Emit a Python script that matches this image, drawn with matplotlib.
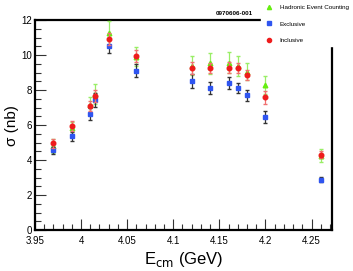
import matplotlib
matplotlib.use("Agg")
import matplotlib.pyplot as plt
from matplotlib.ticker import MultipleLocator, FormatStrFormatter
from matplotlib.lines import Line2D

energy = [3.97, 3.99, 4.01, 4.015, 4.03, 4.06, 4.12, 4.14, 4.16, 4.17, 4.18, 4.20, 4.26]

hadronic = [4.82, 5.81, 7.16, 7.77, 11.24, 9.90, 9.39, 9.52, 9.56, 9.37, 9.05, 8.30, 4.25]
hadronic_err = [0.40, 0.38, 0.45, 0.57, 0.70, 0.55, 0.55, 0.60, 0.60, 0.57, 0.47, 0.50, 0.37]

exclusive = [4.55, 5.35, 6.63, 7.45, 10.51, 9.10, 8.51, 8.11, 8.40, 8.11, 7.70, 6.46, 2.88]
exclusive_err = [0.22, 0.25, 0.33, 0.40, 0.42, 0.38, 0.40, 0.35, 0.32, 0.28, 0.30, 0.33, 0.15]

inclusive = [4.95, 5.94, 7.09, 7.66, 10.91, 9.96, 9.24, 9.26, 9.28, 9.28, 8.84, 7.58, 4.29]
inclusive_err = [0.25, 0.28, 0.30, 0.35, 0.35, 0.35, 0.35, 0.30, 0.30, 0.28, 0.28, 0.35, 0.20]

green = "#66ee11"
blue = "#2f55f0"
red = "#ee1c1c"

plt.rcParams["font.family"] = ["Liberation Sans", "DejaVu Sans"]

fig = plt.figure(figsize=(3.53, 2.71), dpi=100)
ax = fig.add_axes([0.099, 0.151, 0.841, 0.775])

ax.errorbar(energy, hadronic, yerr=hadronic_err, fmt="^", color=green, ms=3.3,
            ecolor="#99ee66", elinewidth=0.9, capsize=1.2, zorder=3)
ax.errorbar(energy, exclusive, yerr=exclusive_err, fmt="s", color=blue, ms=3.5,
            ecolor="#333333", elinewidth=0.9, capsize=1.2, zorder=4)
ax.errorbar(energy, inclusive, yerr=inclusive_err, fmt="o", color=red, ms=3.3,
            ecolor="#f07070", elinewidth=0.9, capsize=1.2, zorder=5)

ax.set_xlim(3.95, 4.272)
ax.set_ylim(0, 12)
ax.xaxis.set_major_locator(MultipleLocator(0.05))
ax.xaxis.set_minor_locator(MultipleLocator(0.01))
ax.yaxis.set_major_locator(MultipleLocator(2))
ax.yaxis.set_minor_locator(MultipleLocator(0.5))
ax.xaxis.set_major_formatter(FormatStrFormatter("%g"))
ax.yaxis.set_major_formatter(FormatStrFormatter("%g"))
ax.tick_params(which="both", direction="in", top=False, right=False,
               color="#333333", labelsize=7, width=0.8)
ax.tick_params(which="major", length=8, pad=2)
ax.tick_params(axis="x", which="major", pad=4)
ax.tick_params(which="minor", length=4)
for s in ax.spines.values():
    s.set_linewidth(1.6)

# axis titles placed like the original
ax.set_xlabel("E$_{\\rm cm}$ (GeV)", fontsize=12)
ax.xaxis.set_label_coords(0.5, -0.095)
ax.xaxis.label.set_va("top")
ax.set_ylabel("σ (nb)", fontsize=11)
ax.yaxis.set_label_coords(-0.077, 0.5)
ax.yaxis.label.set_va("center")

fig.text(0.61, 0.945, "0970606-001", fontsize=4.5, fontweight="bold")

handles = [
    Line2D([], [], marker="^", color=green, ls="none", ms=3),
    Line2D([], [], marker="s", color=blue, ls="none", ms=3),
    Line2D([], [], marker="o", color=red, ls="none", ms=3),
]
leg = fig.legend(handles, ["Hadronic Event Counting", "Exclusive", "Inclusive"],
                 loc="upper left", bbox_to_anchor=(0.73, 1.005), fontsize=4.5,
                 frameon=True, facecolor="white", edgecolor="white",
                 framealpha=1, labelspacing=1.75, handletextpad=1.0,
                 handlelength=1.5, borderpad=0.5)
leg.set_zorder(10)

fig.savefig("out.png", dpi=100)
